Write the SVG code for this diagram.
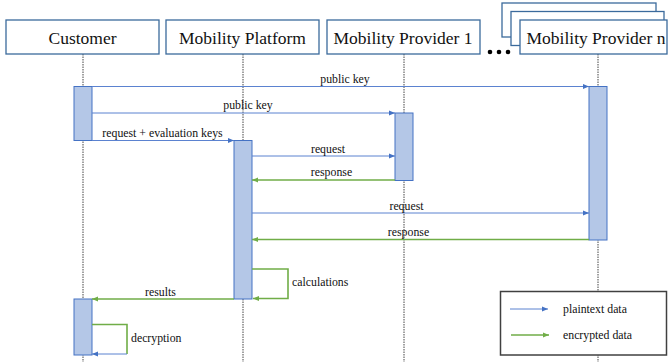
<svg xmlns="http://www.w3.org/2000/svg" width="669" height="362" viewBox="0 0 669 362">
<style>
.box{fill:#fff;stroke:#3b6a9c;stroke-width:1.3}
.title{font-family:'Liberation Serif',serif;font-size:17.5px;fill:#111;text-anchor:middle}
.lbl{font-family:'Liberation Serif',serif;font-size:11.8px;fill:#111}
.mid{text-anchor:middle}
.life{stroke:#444;stroke-width:1;stroke-dasharray:1.5 1;fill:none}
.bar{fill:#b4c7e7;stroke:#4472c4;stroke-width:1}
.pl{stroke:#5b82d0;stroke-width:1;fill:none}
.en{stroke:#70ad47;stroke-width:1.6;fill:none}
</style>
<defs>
<marker id="ab" viewBox="0 0 6 6" refX="6" refY="3" markerWidth="6" markerHeight="6" markerUnits="userSpaceOnUse" orient="auto"><path d="M0,0.5 L6,3 L0,5.5 z" fill="#4472c4"/></marker>
<marker id="ag" viewBox="0 0 6 6" refX="6" refY="3" markerWidth="6" markerHeight="6" markerUnits="userSpaceOnUse" orient="auto"><path d="M0,0.5 L6,3 L0,5.5 z" fill="#70ad47"/></marker>
</defs>
<g id="lifelines">
<line class="life" x1="83" y1="54" x2="83" y2="362"/>
<line class="life" x1="243" y1="54" x2="243" y2="362"/>
<line class="life" x1="404" y1="54" x2="404" y2="362"/>
<line class="life" x1="598" y1="54" x2="598" y2="362"/>
</g>
<g id="customer"><rect class="box" x="6" y="20" width="153" height="34"/><text class="title" x="82.5" y="44">Customer</text></g>
<g id="platform"><rect class="box" x="166" y="20" width="153" height="34"/><text class="title" x="242.5" y="44">Mobility Platform</text></g>
<g id="provider1"><rect class="box" x="327" y="20" width="153" height="34"/><text class="title" x="403" y="44">Mobility Provider 1</text></g>
<g id="providern">
<rect class="box" x="502" y="3" width="154" height="34"/>
<rect class="box" x="511" y="11.5" width="153" height="34"/>
<rect class="box" x="520" y="20" width="147" height="34"/>
<text class="title" x="596" y="44">Mobility Provider n</text>
</g>
<g id="ellipsis" fill="#000"><circle cx="490" cy="52" r="2.3"/><circle cx="499" cy="52" r="2.3"/><circle cx="508" cy="52" r="2.3"/></g>
<g id="activations">
<rect class="bar" x="74" y="86.5" width="18" height="54"/>
<rect class="bar" x="74" y="299" width="18" height="56"/>
<rect class="bar" x="234" y="140.5" width="18" height="158.5"/>
<rect class="bar" x="395" y="113" width="18" height="67.5"/>
<rect class="bar" x="589" y="86.5" width="18" height="153.5"/>
</g>
<g id="connectors">
<line class="pl" x1="92" y1="86.5" x2="589" y2="86.5" marker-end="url(#ab)"/>
<line class="pl" x1="92" y1="113" x2="395" y2="113" marker-end="url(#ab)"/>
<line class="pl" x1="92" y1="140.5" x2="234" y2="140.5" marker-end="url(#ab)"/>
<line class="pl" x1="252" y1="156" x2="395" y2="156" marker-end="url(#ab)"/>
<line class="en" x1="395" y1="180" x2="252" y2="180" marker-end="url(#ag)"/>
<line class="pl" x1="252" y1="213" x2="589" y2="213" marker-end="url(#ab)"/>
<line class="en" x1="589" y1="239.5" x2="252" y2="239.5" marker-end="url(#ag)"/>
<polyline class="en" points="252,269 288,269 288,298.5 253,298.5" marker-end="url(#ag)"/>
<line class="en" x1="234" y1="299" x2="92" y2="299" marker-end="url(#ag)"/>
<polyline class="en" points="92,324.5 127,324.5 127,354"/>
<line class="pl" x1="127" y1="354" x2="92" y2="354" marker-end="url(#ab)"/>
</g>
<g id="labels">
<text class="lbl mid" x="345" y="83">public key</text>
<text class="lbl mid" x="248" y="109">public key</text>
<text class="lbl mid" x="162.5" y="137">request + evaluation keys</text>
<text class="lbl mid" x="328" y="153">request</text>
<text class="lbl mid" x="331.5" y="176">response</text>
<text class="lbl mid" x="406.5" y="209.5">request</text>
<text class="lbl mid" x="408.5" y="235.5">response</text>
<text class="lbl" x="292" y="286">calculations</text>
<text class="lbl mid" x="160.5" y="296">results</text>
<text class="lbl" x="131" y="342">decryption</text>
</g>
<g id="legend">
<rect x="500.5" y="291.5" width="166" height="63.5" fill="#fff" stroke="#404040" stroke-width="1.5"/>
<line class="pl" x1="510" y1="309" x2="548" y2="309" marker-end="url(#ab)"/>
<line class="en" x1="511" y1="335" x2="549" y2="335" marker-end="url(#ag)"/>
<text class="lbl" x="563" y="313">plaintext data</text>
<text class="lbl" x="563" y="339">encrypted data</text>
</g>
</svg>
